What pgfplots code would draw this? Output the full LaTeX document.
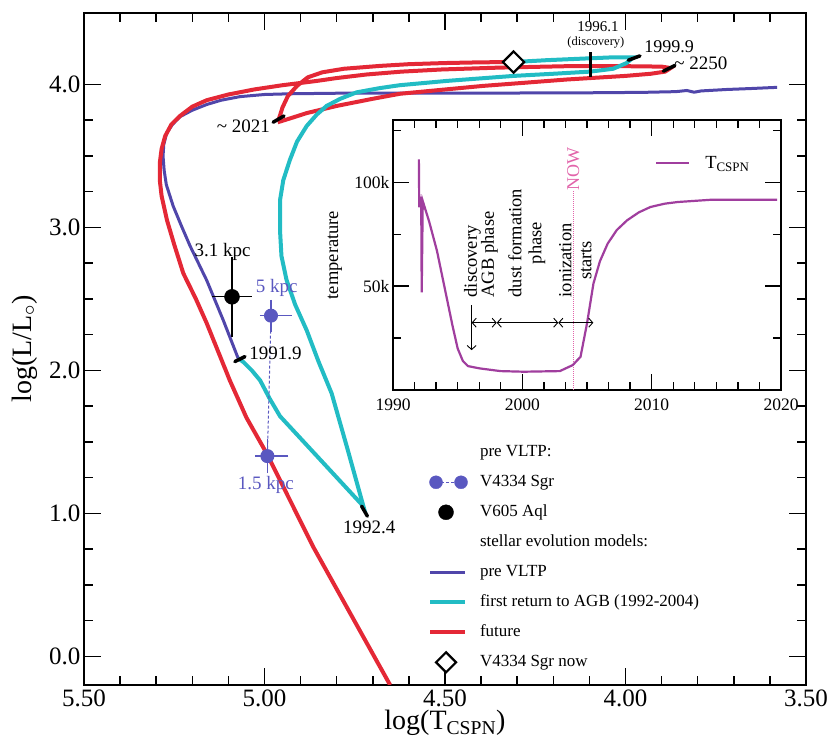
\documentclass[border=0pt]{standalone}
\usepackage{fontspec}
\setmainfont{Liberation Serif}
\usepackage{pgfplots}
\pgfplotsset{compat=1.18}
\usetikzlibrary{arrows.meta}

\definecolor{preblue}{RGB}{80,70,170}
\definecolor{ptblue}{RGB}{90,88,192}
\definecolor{cyanl}{RGB}{34,188,196}
\definecolor{redl}{RGB}{228,40,54}
\definecolor{tpurple}{RGB}{160,62,158}
\definecolor{nowpink}{RGB}{226,100,170}
\newcommand{\fs}[2]{\fontsize{#1}{#2}\selectfont}
% fixed-size (invisible) box for every legend image, so that all legend rows are equally tall
\newcommand{\legbox}{\path[draw=none, fill=none] (0pt,-7pt) rectangle (38pt,7pt);}

\begin{document}
\begin{tikzpicture}
\path[use as bounding box] (-84pt,-65pt) rectangle (744pt,685pt);

% ---------------- main HR diagram ----------------
\begin{axis}[
  at={(0pt,0pt)}, anchor=south west, scale only axis,
  width=722pt, height=672pt,
  x dir=reverse, xmin=3.5, xmax=5.5, ymin=-0.2, ymax=4.5,
  xtick={3.5,4,4.5,5,5.5}, xticklabels={3.50,4.00,4.50,5.00,5.50},
  minor x tick num=4,
  ytick={0,1,2,3,4}, yticklabels={0.0,1.0,2.0,3.0,4.0},
  minor y tick num=3,
  axis line style={line width=1.8pt},
  tick style={black, line width=1.5pt},
  major tick length=17pt, minor tick length=9pt,
  tick align=inside,
  ticklabel style={font=\fs{25}{30}},
  xticklabel style={yshift=-1pt},
  xlabel={log(T\textsubscript{CSPN})},
  ylabel={log(L/L\textsubscript{$\circ$})},
  label style={font=\fs{28}{32}},
  xlabel style={at={(axis description cs:0.5,-0.0375)}, anchor=north, inner sep=0pt},
  ylabel style={at={(axis description cs:-0.082,0.5)}, anchor=center},
  legend cell align=left,
  legend style={draw=none, fill=none, at={(axis description cs:0.479,0.360)}, anchor=north west,
    font=\fs{17}{20}, inner sep=0pt, row sep=12pt,
    nodes={inner sep=1pt, text height=12pt, text depth=4pt},
    /tikz/every odd column/.append style={column sep=11pt}},
]
% legend
\addlegendimage{legend image code/.code={\legbox}}
\addlegendentry{pre VLTP:}
\addlegendimage{legend image code/.code={\legbox
  \begin{scope}[overlay]
  \draw[ptblue, densely dashed, line width=1.2pt] (6pt,0pt) -- (31pt,0pt);
  \fill[ptblue] (6pt,0pt) circle (6.5pt);
  \fill[ptblue] (31pt,0pt) circle (6.5pt);
  \end{scope}}}
\addlegendentry{V4334 Sgr}
\addlegendimage{legend image code/.code={\legbox
  \fill[black, overlay] (16pt,0pt) circle (7.5pt);}}
\addlegendentry{V605 Aql}
\addlegendimage{legend image code/.code={\legbox}}
\addlegendentry{stellar evolution models:}
\addlegendimage{legend image code/.code={\legbox
  \draw[preblue, line width=3pt, overlay] (0pt,0pt) -- (35pt,0pt);}}
\addlegendentry{pre VLTP}
\addlegendimage{legend image code/.code={\legbox
  \draw[cyanl, line width=4pt, overlay] (0pt,0pt) -- (35pt,0pt);}}
\addlegendentry{first return to AGB (1992-2004)}
\addlegendimage{legend image code/.code={\legbox
  \draw[redl, line width=4pt, overlay] (0pt,0pt) -- (35pt,0pt);}}
\addlegendentry{future}
\addlegendimage{legend image code/.code={\legbox
  \draw[black, line width=2.2pt, fill=white, overlay] (16pt,-10pt) -- (26pt,0pt) -- (16pt,10pt) -- (6pt,0pt) -- cycle;}}
\addlegendentry{V4334 Sgr now}

% pre VLTP track
\addplot[preblue, line width=3pt, forget plot] coordinates {
 (3.58,3.98) (3.65,3.972) (3.72,3.965) (3.79,3.955) (3.81,3.946) (3.83,3.958) (3.86,3.950)
 (3.95,3.945) (4.10,3.942) (4.35,3.940) (4.60,3.940) (4.76,3.940) (4.93,3.935) (5.00,3.93)
 (5.068,3.915) (5.12,3.89) (5.16,3.86) (5.20,3.82) (5.234,3.775) (5.255,3.72) (5.271,3.66)
 (5.279,3.58) (5.281,3.50) (5.278,3.40) (5.272,3.30) (5.253,3.15) (5.23,3.01) (5.206,2.87)
 (5.16,2.63) (5.114,2.35) (5.073,2.085)};

% future track
\addplot[redl, line width=4pt, forget plot] coordinates {
 (4.31,4.157) (4.40,4.155) (4.50,4.150) (4.60,4.142) (4.68,4.13) (4.78,4.11) (4.84,4.085)
 (4.88,4.05) (4.91,3.99) (4.935,3.92) (4.95,3.84) (4.96,3.76) (4.958,3.74)
 (4.92,3.77) (4.883,3.80) (4.80,3.85) (4.70,3.90) (4.625,3.935) (4.50,3.965) (4.395,3.99)
 (4.28,4.012) (4.162,4.035) (4.00,4.06) (3.93,4.075) (3.89,4.09) (3.875,4.115) (3.90,4.125)
 (4.00,4.128) (4.162,4.128) (4.35,4.118) (4.509,4.105) (4.62,4.09) (4.717,4.07) (4.80,4.045)
 (4.855,4.025) (4.95,3.995) (5.029,3.965) (5.10,3.93) (5.16,3.89) (5.20,3.845) (5.234,3.78)
 (5.258,3.72) (5.275,3.64) (5.285,3.55) (5.29,3.45) (5.29,3.33) (5.285,3.22) (5.27,3.05)
 (5.25,2.88) (5.225,2.68) (5.19,2.50) (5.16,2.33) (5.096,1.93) (5.05,1.67) (4.994,1.42)
 (4.865,0.766) (4.652,-0.2)};

% first return to AGB
\addplot[cyanl, line width=4pt, forget plot] coordinates {
 (5.073,2.085) (5.059,2.06) (5.035,2.0) (5.012,1.93) (4.985,1.80) (4.957,1.68) (4.726,1.05)
 (4.77,1.45) (4.814,1.84) (4.85,2.06) (4.883,2.28) (4.915,2.46) (4.939,2.634) (4.953,2.80)
 (4.957,2.98) (4.957,3.19) (4.948,3.33) (4.93,3.47) (4.91,3.60) (4.883,3.71) (4.855,3.79)
 (4.828,3.85) (4.79,3.90) (4.745,3.945) (4.68,3.975) (4.625,3.995) (4.495,4.025) (4.31,4.06)
 (4.20,4.075) (4.098,4.09) (4.034,4.11) (3.997,4.15) (3.978,4.19) (4.034,4.19) (4.10,4.183)
 (4.218,4.17) (4.31,4.157)};

% time marks on the tracks
\addplot[black, line width=3.5pt, line cap=round, forget plot] coordinates {(5.082,2.062) (5.054,2.097)};
\addplot[black, line width=3.5pt, line cap=round, forget plot] coordinates {(4.731,1.051) (4.715,0.981)};
\addplot[black, line width=3.5pt, line cap=round, forget plot] coordinates {(4.976,3.736) (4.946,3.78)};
\addplot[black, line width=3.5pt, line cap=round, forget plot] coordinates {(3.992,4.17) (3.96,4.20)};
\addplot[black, line width=3.5pt, line cap=round, forget plot] coordinates {(3.895,4.093) (3.863,4.133)};
\addplot[black, line width=2.5pt, forget plot] coordinates {(4.097,4.225) (4.097,4.055)};

% V4334 Sgr pre VLTP
\addplot[ptblue, densely dashed, line width=1pt, mark=*, mark size=6.5pt, mark options={solid}, forget plot,
  error bars/.cd, x dir=both, x explicit, y dir=both, y explicit,
  error bar style={solid, line width=1.2pt}, error mark options={mark size=5pt, line width=1.2pt}]
  coordinates {
  (4.982,2.383) += (0.017,0.076) -= (0.043,0.076)
  (4.992,1.401) += (0.020,0.084) -= (0.044,0.084)};

% V605 Aql
\addplot[black, only marks, mark=*, mark size=7.5pt, forget plot,
  error bars/.cd, x dir=both, x explicit, y dir=both, y explicit,
  error bar style={line width=1.3pt}, error mark options={mark size=7pt, line width=1.3pt}]
  coordinates {(5.09,2.515) +- (0.035,0.23)};

% V4334 Sgr now
\addplot[only marks, mark=square*, mark size=7.5pt, forget plot,
  mark options={rotate=45, line width=2.2pt, draw=black, fill=white}]
  coordinates {(4.31,4.157)};

% labels
\node[font=\fs{19}{22}] at (axis cs:5.116,2.83) {3.1 kpc};
\node[font=\fs{19}{22}, text=ptblue] at (axis cs:4.966,2.575) {5 kpc};
\node[font=\fs{19}{22}, text=ptblue] at (axis cs:4.996,1.198) {1.5 kpc};
\node[font=\fs{19}{22}, anchor=west, inner sep=1pt] at (axis cs:5.045,2.12) {1991.9};
\node[font=\fs{19}{22}] at (axis cs:4.71,0.906) {1992.4};
\node[font=\fs{19}{22}, anchor=east, inner sep=1pt] at (axis cs:4.982,3.705) {\textasciitilde\ 2021};
\node[font=\fs{18}{22}, anchor=west, inner sep=1pt] at (axis cs:3.951,4.265) {1999.9};
\node[font=\fs{19}{22}, anchor=west, inner sep=1pt] at (axis cs:3.868,4.15) {\textasciitilde\ 2250};
\node[font=\fs{15}{18}] at (axis cs:4.076,4.406) {1996.1};
\node[font=\fs{12.5}{15}] at (axis cs:4.082,4.294) {(discovery)};
\end{axis}

% ---------------- inset: temperature vs time ----------------
\begin{axis}[
  at={(309pt,295pt)}, anchor=south west, scale only axis,
  width=388pt, height=270pt,
  xmin=1990, xmax=2020, ymin=0, ymax=130000,
  xtick={1990,2000,2010,2020}, xticklabels={1990,2000,2010,2020},
  minor x tick num=5,
  ytick={50000,100000}, yticklabels={50k,100k}, minor ytick={25000,75000,125000},
  scaled y ticks=false,
  axis background/.style={fill=white},
  axis line style={line width=1.6pt},
  tick style={black, line width=1.3pt},
  major tick length=16pt, minor tick length=8pt,
  tick align=inside,
  ticklabel style={font=\fs{17.5}{21}},
  xticklabel style={yshift=-5pt},
  ylabel={temperature},
  ylabel style={font=\fs{18.5}{22}, at={(axis description cs:-0.15,0.5)}, anchor=center},
  legend style={draw=none, fill=none, at={(axis description cs:0.675,0.84)}, anchor=west,
    font=\fs{18.5}{22}, inner sep=0pt,
    /tikz/every odd column/.append style={column sep=13pt}},
]
\addlegendimage{legend image code/.code={\draw[tpurple, line width=2.2pt] (0pt,0pt) -- (33pt,0pt);}}
\addlegendentry{T\textsubscript{CSPN}}

\addplot[nowpink, densely dotted, line width=1pt, forget plot] coordinates {(2003.95,0) (2003.95,96000)};
\node[rotate=90, text=nowpink, font=\fs{18}{22}] at (axis cs:2003.95,106600) {NOW};

\addplot[tpurple, line width=2.2pt, forget plot] coordinates {
 (1992.00,111000) (1992.03,88000) (1992.18,93000) (1992.22,47000) (1992.30,91000)
 (1992.8,81000) (1993.4,67000) (1994.1,46000) (1994.6,31000) (1995.0,20000) (1995.4,14000)
 (1995.8,11500) (1996.7,10400) (1998.3,9100) (2000.1,8800) (2002.9,9100) (2003.9,12000)
 (2004.5,16000) (2004.75,24000) (2005.0,32000) (2005.5,51300) (2006.0,62000) (2006.6,70500)
 (2007.3,77000) (2008.1,81700) (2009.0,85500) (2009.9,88100) (2011.0,89700) (2012.0,90500)
 (2014.6,91600) (2019.7,91600)};

% phase annotations
\node[rotate=90, anchor=west, align=left, font=\fs{18.5}{17}, inner sep=0pt] at (axis cs:1996.8,44500) {discovery\\AGB phase};
\node[rotate=90, anchor=west, align=center, font=\fs{18.5}{20}, inner sep=0pt] at (axis cs:2000.34,44500) {dust formation\\phase};
\node[rotate=90, anchor=west, align=center, font=\fs{18.5}{20}, inner sep=0pt] at (axis cs:2004.1,44500) {ionization\\starts};
\draw[{Straight Barb[length=4pt,width=9pt]}-{Straight Barb[length=4pt,width=9pt]}, line width=0.9pt]
  (axis cs:1996.08,32400) -- (axis cs:1998.02,32400);
\draw[{Straight Barb[length=4pt,width=9pt]}-{Straight Barb[length=4pt,width=9pt]}, line width=0.9pt]
  (axis cs:1998.02,32400) -- (axis cs:2002.78,32400);
\draw[{Straight Barb[length=4pt,width=9pt]}-{Straight Barb[length=4pt,width=9pt]}, line width=0.9pt]
  (axis cs:2002.78,32400) -- (axis cs:2005.49,32400);
\draw[-{Straight Barb[length=4pt,width=9pt]}, line width=0.9pt]
  (axis cs:1996.08,40900) -- (axis cs:1996.08,19200);

% x label: arrow and "time"
\draw[-{Straight Barb[length=5pt,width=9pt]}, line width=1pt]
  (axis description cs:0.641,-0.117) -- (axis description cs:0.783,-0.117);
\node[font=\fs{18.5}{22}, anchor=west, inner sep=0pt] at (axis description cs:0.795,-0.117) {time};
\end{axis}
\end{tikzpicture}
\end{document}
